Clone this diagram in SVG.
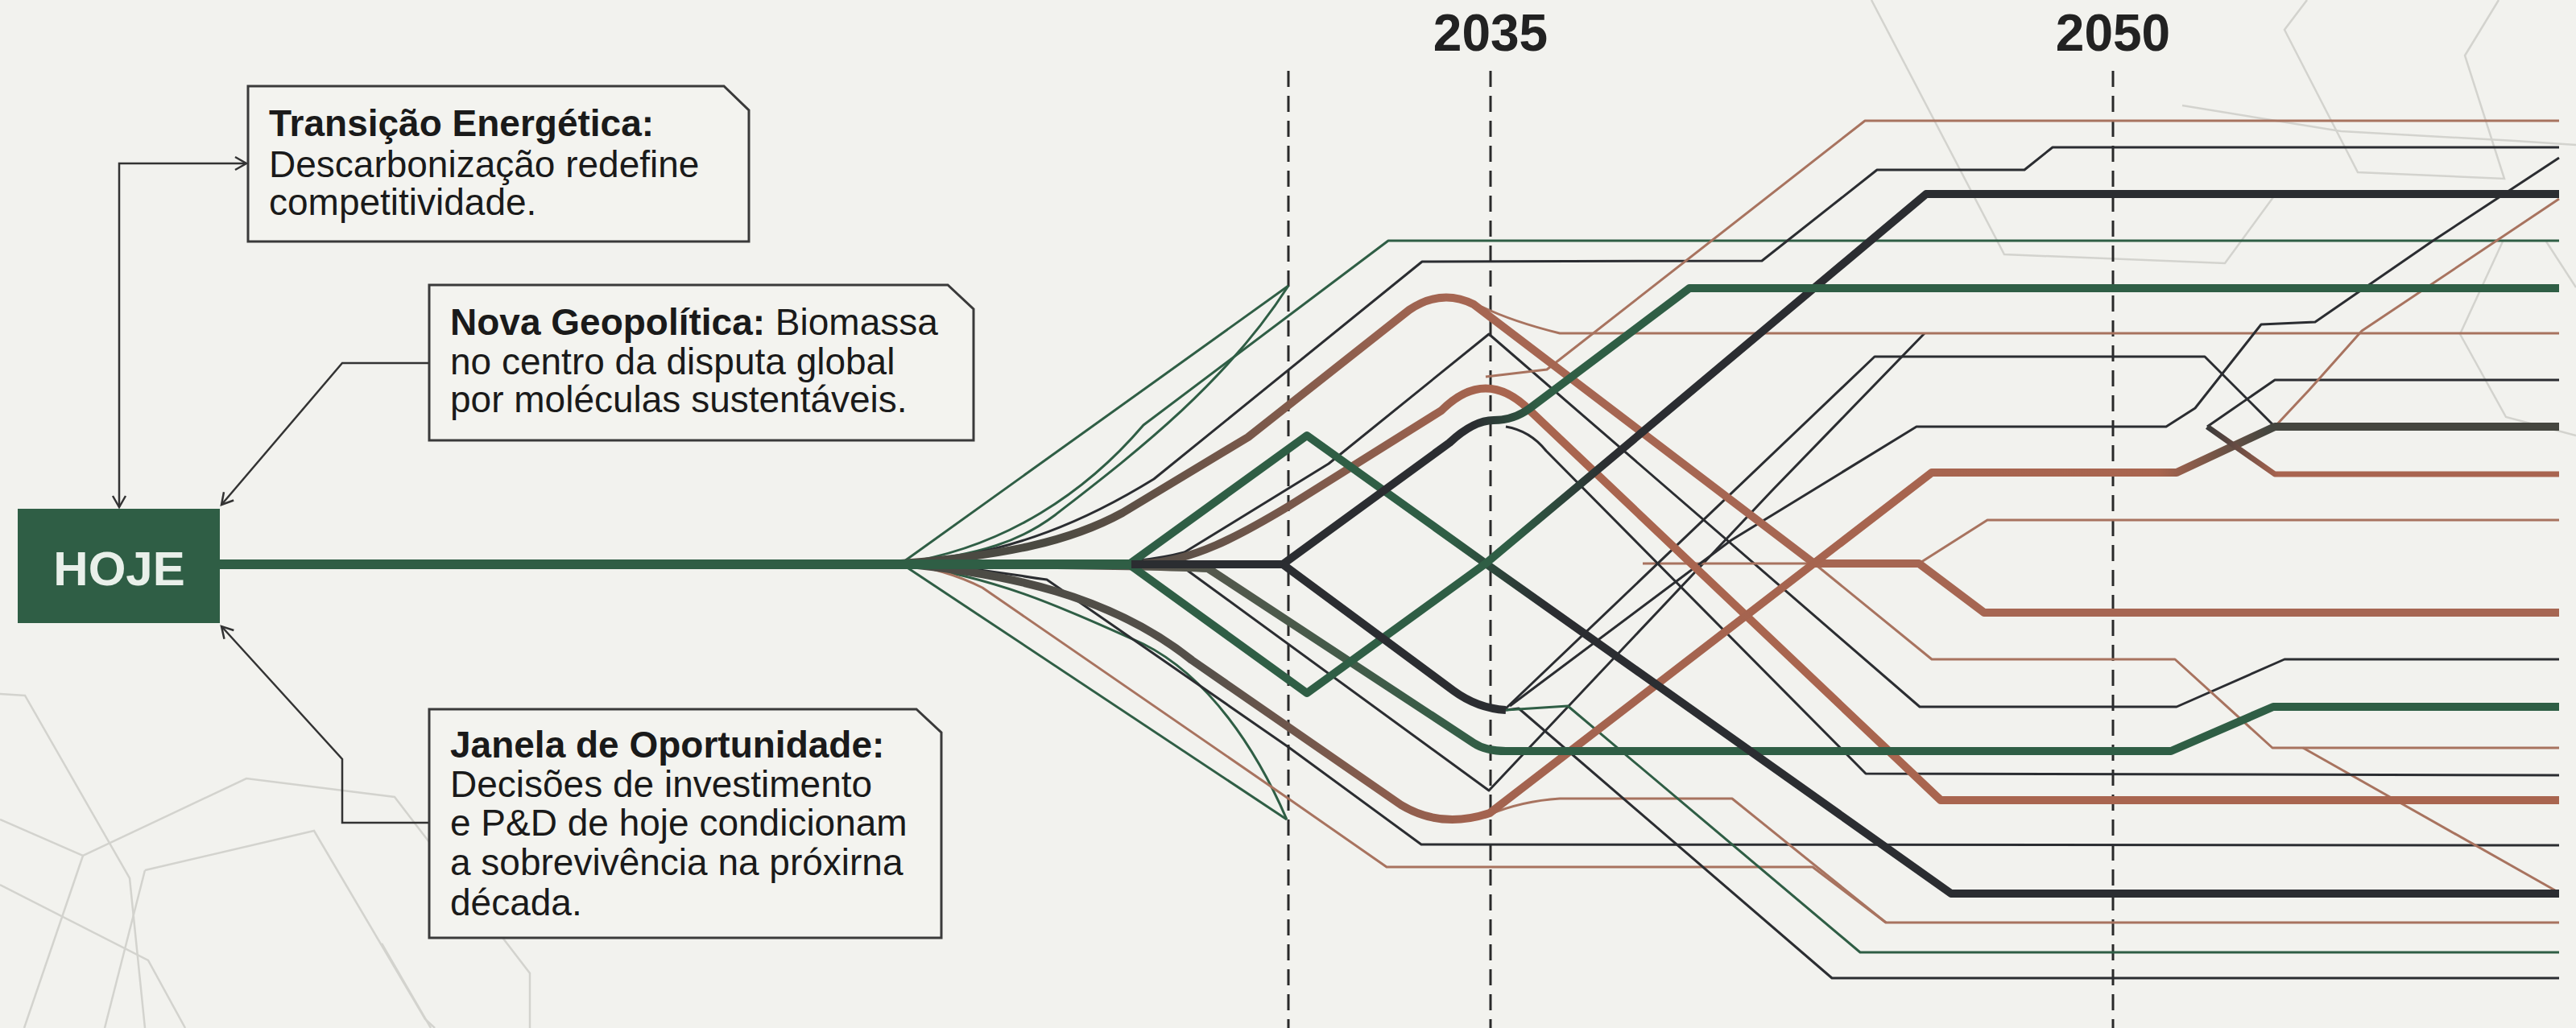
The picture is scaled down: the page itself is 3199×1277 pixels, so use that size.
<svg xmlns="http://www.w3.org/2000/svg" width="3199" height="1277" viewBox="0 0 3199 1277">
<defs>
<style>
.t{font-family:"Liberation Sans",Arial,sans-serif;font-size:46px;fill:#1a1a1a}
.b{font-weight:bold}
.yr{font-family:"Liberation Sans",Arial,sans-serif;font-size:64px;font-weight:bold;fill:#222}
.box{fill:#f3f3ef;stroke:#3a3a3a;stroke-width:3}
.arr{fill:none;stroke:#333;stroke-width:2.5}
.bg{fill:none;stroke:#d3d3ce;stroke-width:2.5}
.dash{stroke:#2a2a2a;stroke-width:3;stroke-dasharray:20 11}
.ln{fill:none;stroke-linejoin:round;stroke-linecap:butt}
.thin{stroke-width:3}
.med{stroke-width:7}
.thick{stroke-width:10}
.g{stroke:#2f5e45}
.k{stroke:#2b2d31}
.o{stroke:#a9644f}
.lo{stroke:#a8735f}
</style>
<marker id="ah" viewBox="0 0 20 20" refX="17" refY="10" markerWidth="20" markerHeight="20" markerUnits="userSpaceOnUse" orient="auto-start-reverse">
<path d="M3,2 L17,10 L3,18" fill="none" stroke="#333" stroke-width="2.5"/>
</marker>
<linearGradient id="gA" gradientUnits="userSpaceOnUse" x1="1800" y1="0" x2="1920" y2="0"><stop offset="0" stop-color="#2f5e45"/><stop offset="1" stop-color="#2b2d31"/></linearGradient>
<linearGradient id="gB" gradientUnits="userSpaceOnUse" x1="1880" y1="0" x2="2000" y2="0"><stop offset="0" stop-color="#2f5e45"/><stop offset="1" stop-color="#2b2d31"/></linearGradient>
<linearGradient id="gT2" gradientUnits="userSpaceOnUse" x1="1830" y1="0" x2="1910" y2="0"><stop offset="0" stop-color="#2b2d31"/><stop offset="1" stop-color="#2f5e45"/></linearGradient>
<linearGradient id="gU" gradientUnits="userSpaceOnUse" x1="1300" y1="0" x2="1800" y2="0"><stop offset="0" stop-color="#4b4a42"/><stop offset="1" stop-color="#a66652"/></linearGradient>
<linearGradient id="gU2" gradientUnits="userSpaceOnUse" x1="1450" y1="0" x2="1850" y2="0"><stop offset="0" stop-color="#5a5048"/><stop offset="1" stop-color="#a9654f"/></linearGradient>
<linearGradient id="gTr" gradientUnits="userSpaceOnUse" x1="1150" y1="0" x2="2850" y2="0"><stop offset="0" stop-color="#4a4a44"/><stop offset="0.2" stop-color="#55504a"/><stop offset="0.4" stop-color="#a3634f"/><stop offset="0.9" stop-color="#a9654f"/><stop offset="0.98" stop-color="#45463f"/></linearGradient>
<linearGradient id="gG" gradientUnits="userSpaceOnUse" x1="1450" y1="0" x2="1870" y2="0"><stop offset="0" stop-color="#5a574e"/><stop offset="1" stop-color="#2f5e45"/></linearGradient>
<linearGradient id="gE587" gradientUnits="userSpaceOnUse" x1="2741" y1="0" x2="2830" y2="0"><stop offset="0" stop-color="#3a3a3a"/><stop offset="1" stop-color="#a9644f"/></linearGradient>
</defs>
<rect width="3199" height="1277" fill="#f2f2ee"/>

<g id="background">
<polyline class="bg" points="0,862 31,864 161,1091 180,1277"/>
<polyline class="bg" points="0,1018 103,1063 306,967 490,990 658,1209 658,1277"/>
<polyline class="bg" points="180,1081 390,1032 528,1266 540,1277"/>
<polyline class="bg" points="0,1099 184,1193 230,1277"/>
<polyline class="bg" points="103,1063 30,1277"/>
<polyline class="bg" points="180,1081 130,1277"/>
<polyline class="bg" points="474,1172 535,1277"/>
<polyline class="bg" points="2324,0 2489,316 2763,327 2823,245"/>
<polyline class="bg" points="2865,0 2837,37 2928,214 3110,222 3061,69 3103,0"/>
<polyline class="bg" points="2710,131 2907,163 3124,175 3199,180"/>
<polyline class="bg" points="3108,300 3055,415 3112,518 3199,541"/>
<polyline class="bg" points="3162,300 3199,357"/>
</g>

<g id="timeline">
<line class="dash" x1="1600" y1="88" x2="1600" y2="1277"/>
<line class="dash" x1="1851" y1="88" x2="1851" y2="1277"/>
<line class="dash" x1="2624" y1="88" x2="2624" y2="1277"/>
<text class="yr" x="1851" y="63" text-anchor="middle">2035</text>
<text class="yr" x="2624" y="63" text-anchor="middle">2050</text>
</g>

<g id="connectors">
<path class="arr" d="M306,203 L148,203 L148,630" marker-start="url(#ah)" marker-end="url(#ah)"/>
<path class="arr" d="M533,451 L425,451 L275,627" marker-end="url(#ah)"/>
<path class="arr" d="M533,1022 L425,1022 L425,943 L275,778" marker-end="url(#ah)"/>

<path class="ln thin g" d="M1119,700 L1600,355"/>
<path class="ln thin g" d="M1119,700 C1220,690 1270,670 1310,640 C1400,570 1520,480 1600,355"/>
<path class="ln thin g" d="M1119,700 C1250,680 1350,610 1420,528 L1724,299 L3178,299"/>
<path class="ln thin k" d="M1119,700 C1260,690 1360,640 1433,595 L1766,325 L2188,324 L2331,211 L2514,211 L2549,183 L3178,183"/>
<path class="ln thin k" d="M1119,700 C1300,703 1400,705 1471,686 L1650,576 L1849,415 L2384,878 L2703,878 L2837,819 L3178,819"/>
<path class="ln thin g" d="M1119,700 L1598,1018"/>
<path class="ln thin g" d="M1119,700 C1250,720 1330,760 1420,800 C1500,840 1560,930 1598,1018"/>
<path class="ln thin k" d="M1119,700 C1220,705 1260,715 1300,720 L1600,928 L1765,1049 L3178,1050"/>
<path class="ln thin lo" d="M1119,700 C1160,705 1190,715 1220,730 L1600,992 L1722,1077 L2251,1077 L2342,1146 L3178,1146"/>
<path class="ln thin k" d="M1119,700 C1300,702 1400,705 1471,706 L1849,982 L2200,610 L2390,414"/>

<path class="ln thin lo" d="M1840,381 Q1880,400 1937,414 L3178,414"/>
<path class="ln thin lo" d="M1845,468 L1921,459 L2316,150 L3178,150"/>
<path class="ln thin lo" d="M2383,700 L2468,646 L3178,646"/>
<path class="ln thin lo" d="M2040,700 L2253,700 L2399,819 L2701,819 L2822,929 L3178,929"/>
<path class="ln thin lo" d="M2860,929 L3173,1106"/>
<path class="ln thin lo" d="M1849,1012 Q1890,995 1937,992 L2151,992 L2342,1146"/>
<path class="ln thin k" d="M1870,530 Q1900,535 1920,560 L2317,961 L3178,963"/>
<path class="ln thin k" d="M1870,882 L1886,880 L2275,1215 L3178,1215"/>
<path class="ln thin g" d="M1870,882 L1947,877 L2310,1183 L3178,1183"/>
<path class="ln thin k" d="M1870,880 L2328,443 L2738,443 L2825,530"/>
<path class="ln thin k" d="M1875,877 L2150,671 L2380,530 L2690,530 L2726,507 L2808,403 L2875,400 L3020,300 L3178,196"/>
<path class="ln thin k" d="M2741,530 L2825,472 L3178,472"/>
<path class="ln thin lo" d="M2825,530 L2868,484 L2933,411 L3178,247"/>

<path class="ln thick" stroke="url(#gU)" d="M1119,700 C1250,690 1330,672 1394,637 L1550,543 L1750,385 Q1790,358 1830,378 L2253,700 L2383,700 L2464,761 L3178,761"/>
<path class="ln thick" stroke="url(#gU2)" d="M1420,700 C1480,698 1540,665 1600,629 L1790,510 Q1845,455 1900,510 L2410,994 L3178,994"/>
<path class="ln thick" stroke="url(#gTr)" d="M1119,700 C1250,712 1380,740 1480,820 L1740,1000 Q1790,1030 1850,1010 L2399,587 L2703,587 L2825,530 L3178,530"/>
<path class="ln thick" stroke="url(#gG)" d="M1119,700 C1300,702 1420,702 1500,706 L1830,923 Q1845,933 1870,933 L2696,933 L2823,878 L3178,878"/>
<path class="ln med" stroke="url(#gE587)" d="M2741,530 L2825,589 L3178,589"/>
<path class="ln thick" stroke="url(#gA)" d="M1402,701 L1623,541 L1845,700 L2423,1110 L3178,1110"/>
<path class="ln thick" stroke="url(#gB)" d="M1402,701 L1623,861 L1845,700 L2392,241 L3178,241"/>
<path class="ln thick k" d="M1400,701 L1593,701"/>
<path class="ln thick" stroke="url(#gT2)" d="M1593,701 L1800,550 Q1830,522 1855,522 Q1880,522 1900,507 L2098,358 L3178,358"/>
<path class="ln thick k" d="M1593,701 L1805,858 Q1835,880 1870,882"/>
<path class="ln" stroke="#2f5e45" stroke-width="12" d="M273,701 L1405,701"/>
</g>

<g id="node-hoje">
<rect x="22" y="632" width="251" height="142" fill="#2f5e45"/>
<text x="148" y="727" text-anchor="middle" font-family="Liberation Sans, Arial, sans-serif" font-size="60" font-weight="bold" fill="#e9f0ea">HOJE</text>
</g>

<g id="node-transicao">
<path class="box" d="M308,107 L899,107 L930,137 L930,300 L308,300 Z"/>
<text class="t" x="334" y="169"><tspan class="b">Transição Energética:</tspan></text>
<text class="t" x="334" y="220">Descarbonização redefine</text>
<text class="t" x="334" y="267">competitividade.</text>
</g>

<g id="node-geopolitica">
<path class="box" d="M533,354 L1177,354 L1209,384 L1209,547 L533,547 Z"/>
<text class="t" x="559" y="416"><tspan class="b">Nova Geopolítica:</tspan> Biomassa</text>
<text class="t" x="559" y="465">no centro da disputa global</text>
<text class="t" x="559" y="512">por moléculas sustentáveis.</text>
</g>

<g id="node-janela">
<path class="box" d="M533,881 L1138,881 L1169,910 L1169,1165 L533,1165 Z"/>
<text class="t" x="559" y="941"><tspan class="b">Janela de Oportunidade:</tspan></text>
<text class="t" x="559" y="990">Decisões de investimento</text>
<text class="t" x="559" y="1038">e P&amp;D de hoje condicionam</text>
<text class="t" x="559" y="1087">a sobrevivência na próxirna</text>
<text class="t" x="559" y="1137">década.</text>
</g>
</svg>
